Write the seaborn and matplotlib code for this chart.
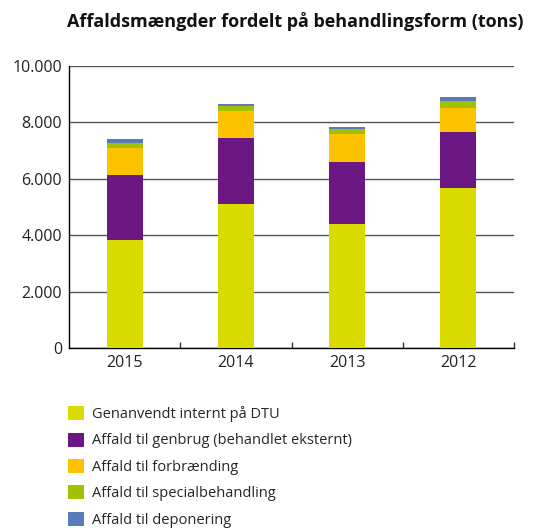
import matplotlib
matplotlib.use("Agg")
import matplotlib.pyplot as plt
import seaborn as sns
import pandas as pd
import numpy as np
from matplotlib.patches import Patch
from matplotlib.ticker import FuncFormatter, FixedLocator

years = ["2015", "2014", "2013", "2012"]
series_names = [
    "Genanvendt internt på DTU",
    "Affald til genbrug (behandlet eksternt)",
    "Affald til forbrænding",
    "Affald til specialbehandling",
    "Affald til deponering",
]
genanvendt = [3840, 5090, 4410, 5660]
genbrug = [2280, 2350, 2170, 1990]
forbraending = [960, 960, 1000, 850]
special = [200, 180, 180, 250]
deponering = [120, 70, 70, 140]
colors = ["#D9DA00", "#6A1683", "#FDC300", "#A2C100", "#5A7BB9"]

sns.set_theme(style="white")
plt.rcParams["font.family"] = ["Open Sans", "DejaVu Sans"]

values = [genanvendt, genbrug, forbraending, special, deponering]
cum = np.cumsum(np.array(values), axis=0)

fig = plt.figure(figsize=(5.34, 5.28), dpi=100)
ax = fig.add_axes([69/534, 1-348/528, (514-69)/534, (348-66)/528])

for i in range(len(values) - 1, -1, -1):
    df = pd.DataFrame({"year": years, "value": cum[i]})
    sns.barplot(data=df, x="year", y="value", order=years, color=colors[i],
                saturation=1, width=0.324, ax=ax, zorder=3, linewidth=0)

ax.set_xlim(-0.5, 3.5)
ax.set_ylim(0, 10000)
ax.set_yticks([0, 2000, 4000, 6000, 8000, 10000])
ax.yaxis.set_major_formatter(FuncFormatter(lambda v, p: f"{int(v):,}".replace(",", ".")))
ax.grid(axis="y", color="#555555", linewidth=1.0, zorder=0)
ax.set_axisbelow(True)
ax.set_xlabel("")
ax.set_ylabel("")
for s in ["top", "right"]:
    ax.spines[s].set_visible(False)
for s in ["left", "bottom"]:
    ax.spines[s].set_color("black")
    ax.spines[s].set_linewidth(1.0)
ax.tick_params(axis="both", which="major", length=0, labelsize=11.5, colors="#222222", pad=5)
ax.xaxis.set_minor_locator(FixedLocator([0.5, 1.5, 2.5, 3.5]))
ax.tick_params(axis="x", which="minor", direction="in", length=4, width=1, color="#333333", bottom=True)

fig.text(67/534, 1-22/528, "Affaldsmængder fordelt på behandlingsform (tons)",
         fontsize=13.0, fontweight="bold", ha="left", va="center", color="#111111")

handles = [Patch(facecolor=c, edgecolor="none") for c in colors]
fig.legend(handles, series_names, loc="upper left", bbox_to_anchor=(68/534, 1-406/528),
           frameon=False, fontsize=10.5, handlelength=1.1, handleheight=1.1,
           handletextpad=0.55, labelspacing=0.72, borderaxespad=0, borderpad=0)

fig.savefig("out.png", dpi=100)
